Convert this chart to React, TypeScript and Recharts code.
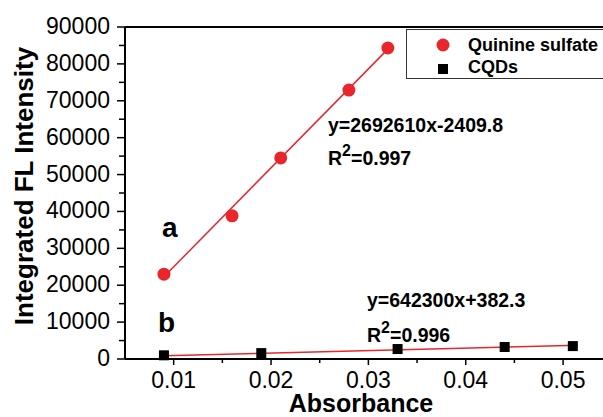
import React from 'react';
import {
  ScatterChart,
  Scatter,
  XAxis,
  YAxis,
  ReferenceLine,
  Legend,
} from 'recharts';

// readings taken off the figure
const quinineAbs = [0.009, 0.016, 0.021, 0.028, 0.032];
const quinineFL = [23000, 38800, 54500, 72900, 84300];
const cqdAbs = [0.009, 0.019, 0.033, 0.044, 0.051];
const cqdFL = [1000, 1600, 2700, 3250, 3500];

// fitted line end points as drawn
const quinineFitAbs = [0.009, 0.032];
const quinineFitFL = [22300, 84000];
const cqdFitAbs = [0.009, 0.0515];
const cqdFitFL = [900, 3700];

const xTicks = [0.01, 0.015, 0.02, 0.025, 0.03, 0.035, 0.04, 0.045, 0.05];
const xLabels = [0.01, 0.02, 0.03, 0.04, 0.05];
const yTicks = [
  0, 5000, 10000, 15000, 20000, 25000, 30000, 35000, 40000, 45000,
  50000, 55000, 60000, 65000, 70000, 75000, 80000, 85000, 90000,
];
const yLabels = [0, 10000, 20000, 30000, 40000, 50000, 60000, 70000, 80000, 90000];

const RED = '#e8262b';
const FONT = '"Liberation Sans", Arial, sans-serif';

const quinine = quinineAbs.map((x, i) => ({ x, y: quinineFL[i] }));
const cqds = cqdAbs.map((x, i) => ({ x, y: cqdFL[i] }));

const isOneOf = (v: number, list: number[]) => list.some((l) => Math.abs(l - v) < 1e-9);

const XTick = ({ x, y, payload }: any) => {
  const major = isOneOf(payload.value, xLabels);
  return (
    <g>
      <line x1={x} x2={x} y1={y} y2={y + (major ? 6 : 4)} stroke='#000' strokeWidth={1.5} />
      {major && (
        <text x={x} y={y + 29} textAnchor='middle' fontSize={23} fontFamily={FONT} fill='#000'>
          {payload.value.toFixed(2)}
        </text>
      )}
    </g>
  );
};

const YTick = ({ x, y, payload }: any) => {
  const major = isOneOf(payload.value, yLabels);
  return (
    <g>
      <line x1={x} x2={x - (major ? 8 : 6)} y1={y} y2={y} stroke='#000' strokeWidth={1.5} />
      {major && (
        <text x={x - 15} y={y + 7} textAnchor='end' fontSize={23} fontFamily={FONT} fill='#000'>
          {payload.value}
        </text>
      )}
    </g>
  );
};

const Dot = ({ cx, cy }: any) => <circle cx={cx} cy={cy} r={6.5} fill={RED} />;
const Square = ({ cx, cy }: any) => <rect x={cx - 5} y={cy - 5} width={10} height={10} fill='#000' />;

const LegendBox = () => (
  <div
    style={{
      width: 205,
      height: 50,
      border: '1.5px solid #333',
      boxSizing: 'border-box',
      position: 'relative',
    }}
  >
    <svg width={205} height={50} style={{ position: 'absolute', left: 0, top: 0 }}>
      <circle cx={36} cy={15} r={6.5} fill={RED} />
      <rect x={31} y={34} width={10} height={10} fill='#000' />
      <text x={61} y={21} fontSize={18} fontWeight='bold' fontFamily={FONT}>Quinine sulfate</text>
      <text x={61} y={43} fontSize={18} fontWeight='bold' fontFamily={FONT}>CQDs</text>
    </svg>
  </div>
);

export default function App() {
  const bold = { fontFamily: FONT, fontWeight: 'bold' as const, fill: '#000' };
  return (
    <div style={{ position: 'absolute', left: 0, top: 0, width: 603, height: 417, overflow: 'hidden', background: '#fff' }}>
      <ScatterChart width={603} height={417} margin={{ top: 27, right: 0, bottom: 0, left: 0 }}>
        <XAxis
          type='number'
          dataKey='x'
          domain={[0.005, 0.0541]}
          allowDataOverflow
          ticks={xTicks}
          interval={0}
          height={58}
          tickSize={0}
          tickMargin={0}
          tickLine={false}
          axisLine={{ stroke: '#000', strokeWidth: 2 }}
          tick={<XTick />}
        />
        <YAxis
          type='number'
          dataKey='y'
          domain={[0, 90000]}
          ticks={yTicks}
          interval={0}
          width={125}
          tickSize={0}
          tickMargin={0}
          tickLine={false}
          axisLine={{ stroke: '#000', strokeWidth: 2 }}
          tick={<YTick />}
        />
        <ReferenceLine y={90000} stroke='#000' strokeWidth={2} />
        <ReferenceLine
          segment={[
            { x: quinineFitAbs[0], y: quinineFitFL[0] },
            { x: quinineFitAbs[1], y: quinineFitFL[1] },
          ]}
          stroke={RED}
          strokeWidth={1.5}
        />
        <ReferenceLine
          segment={[
            { x: cqdFitAbs[0], y: cqdFitFL[0] },
            { x: cqdFitAbs[1], y: cqdFitFL[1] },
          ]}
          stroke={RED}
          strokeWidth={1.5}
        />
        <Scatter name='Quinine sulfate' data={quinine} shape={<Dot />} isAnimationActive={false} />
        <Scatter name='CQDs' data={cqds} shape={<Square />} isAnimationActive={false} />
        <Legend
          layout='vertical'
          align='center'
          verticalAlign='middle'
          wrapperStyle={{ left: 406, top: 29, width: 205, right: 'auto', bottom: 'auto' }}
          content={() => <LegendBox />}
        />
      </ScatterChart>
      <svg width={603} height={417} style={{ position: 'absolute', left: 0, top: 0, pointerEvents: 'none' }}>
        <text x={33} y={186} transform='rotate(-90 33 186)' textAnchor='middle' fontSize={26} {...bold}>
          Integrated FL Intensity
        </text>
        <text x={361} y={412} textAnchor='middle' fontSize={25} {...bold}>Absorbance</text>
        <text x={162} y={237} fontSize={28} {...bold}>a</text>
        <text x={158} y={332} fontSize={28} {...bold}>b</text>
        <text x={328} y={132} fontSize={19.5} {...bold}>y=2692610x-2409.8</text>
        <text x={328} y={165} fontSize={19.5} {...bold}>
          R<tspan dy={-9} fontSize={16}>2</tspan><tspan dy={9}>=0.997</tspan>
        </text>
        <text x={367} y={307} fontSize={19.5} {...bold}>y=642300x+382.3</text>
        <text x={367} y={342} fontSize={19.5} {...bold}>
          R<tspan dy={-9} fontSize={16}>2</tspan><tspan dy={9}>=0.996</tspan>
        </text>
      </svg>
    </div>
  );
}
